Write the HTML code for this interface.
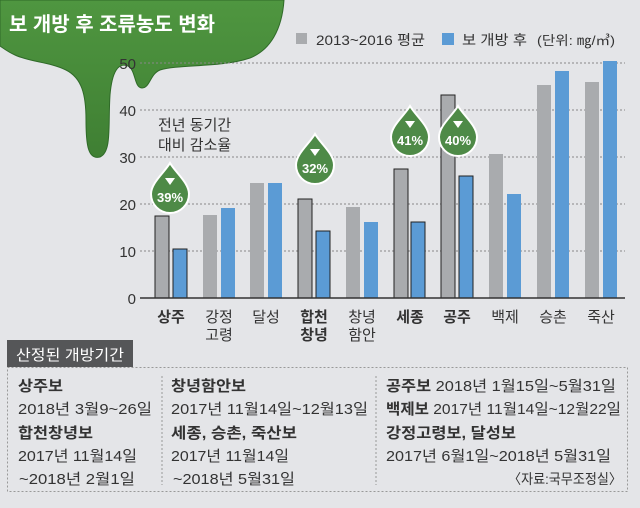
<!DOCTYPE html>
<html><head><meta charset="utf-8"><style>
body{margin:0;background:#e4e5e8;}
svg{display:block;font-family:"Liberation Sans","Noto Sans CJK KR",sans-serif;}
</style></head><body>
<svg width="640" height="508" viewBox="0 0 640 508" xmlns="http://www.w3.org/2000/svg">
<rect width="640" height="508" fill="#e4e5e8"/>
<defs>
<linearGradient id="g" x1="0" y1="0" x2="0" y2="1"><stop offset="0" stop-color="#4f9640"/><stop offset="1" stop-color="#3f7f33"/></linearGradient>
</defs>
<path d="M0 0 H284 C282 30 270 50 250 58 C220 68 180 64 160 70 C150 74 150 88 142 88 C134 88 136 70 128 66 C118 62 112 72 110 95 C108 125 112 152 100 157 C88 160 86 145 86 120 C86 95 82 78 66 70 C50 62 30 62 15 55 C8 52 3 48 0 46 Z" fill="url(#g)" stroke="#2f6a28" stroke-width="1"/>
<text x="9" y="31" font-size="20" font-weight="bold" fill="#fff" textLength="206" lengthAdjust="spacingAndGlyphs">보 개방 후 조류농도 변화</text>
<rect x="296" y="33" width="11" height="11" fill="#a9abae"/>
<text x="316" y="45" font-size="14" fill="#333" textLength="109" lengthAdjust="spacingAndGlyphs">2013~2016 평균</text>
<rect x="442" y="33" width="12" height="12" fill="#5b9bd5"/>
<text x="462" y="45" font-size="14" fill="#333" textLength="65" lengthAdjust="spacingAndGlyphs">보 개방 후</text>
<text x="537" y="45" font-size="13" fill="#333" textLength="78" lengthAdjust="spacingAndGlyphs">(단위: ㎎/㎥)</text>
<g stroke="#888" stroke-width="1" stroke-dasharray="2,2">
<line x1="140" y1="63" x2="625" y2="63"/><line x1="140" y1="110" x2="625" y2="110"/><line x1="140" y1="157" x2="625" y2="157"/><line x1="140" y1="204" x2="625" y2="204"/><line x1="140" y1="251" x2="625" y2="251"/>
</g>
<g font-size="15" fill="#333" text-anchor="end">
<text x="136" y="69">50</text><text x="136" y="116">40</text><text x="136" y="163">30</text><text x="136" y="210">20</text><text x="136" y="257">10</text><text x="136" y="304">0</text>
</g>
<g>
<rect x="155" y="216" width="14" height="82" fill="#a9abae" stroke="#222"/><rect x="173" y="249" width="14" height="49" fill="#5b9bd5" stroke="#222"/>
<rect x="203" y="215" width="14" height="83" fill="#a9abae"/><rect x="221" y="208" width="14" height="90" fill="#5b9bd5"/>
<rect x="250" y="183" width="14" height="115" fill="#a9abae"/><rect x="268" y="183" width="14" height="115" fill="#5b9bd5"/>
<rect x="298" y="199" width="14" height="99" fill="#a9abae" stroke="#222"/><rect x="316" y="231" width="14" height="67" fill="#5b9bd5" stroke="#222"/>
<rect x="346" y="207" width="14" height="91" fill="#a9abae"/><rect x="364" y="222" width="14" height="76" fill="#5b9bd5"/>
<rect x="394" y="169" width="14" height="129" fill="#a9abae" stroke="#222"/><rect x="411" y="222" width="14" height="76" fill="#5b9bd5" stroke="#222"/>
<rect x="441" y="95" width="14" height="203" fill="#a9abae" stroke="#222"/><rect x="459" y="176" width="14" height="122" fill="#5b9bd5" stroke="#222"/>
<rect x="489" y="154" width="14" height="144" fill="#a9abae"/><rect x="507" y="194" width="14" height="104" fill="#5b9bd5"/>
<rect x="537" y="85" width="14" height="213" fill="#a9abae"/><rect x="555" y="71" width="14" height="227" fill="#5b9bd5"/>
<rect x="585" y="82" width="14" height="216" fill="#a9abae"/><rect x="603" y="61" width="14" height="237" fill="#5b9bd5"/>
</g>
<line x1="140" y1="298" x2="625" y2="298" stroke="#333" stroke-width="1.5"/>
<g font-size="15" fill="#333" text-anchor="middle">
<text x="171" y="322" font-weight="bold">상주</text>
<text x="219" y="322">강정</text><text x="219" y="340">고령</text>
<text x="266" y="322">달성</text>
<text x="314" y="322" font-weight="bold">합천</text><text x="314" y="340" font-weight="bold">창녕</text>
<text x="362" y="322">창녕</text><text x="362" y="340">함안</text>
<text x="410" y="322" font-weight="bold">세종</text>
<text x="457" y="322" font-weight="bold">공주</text>
<text x="505" y="322">백제</text>
<text x="553" y="322">승촌</text>
<text x="601" y="322">죽산</text>
</g>
<text x="158" y="130" font-size="15" fill="#333">전년 동기간</text>
<text x="158" y="150" font-size="15" fill="#333">대비 감소율</text>
<g>
<g transform="translate(170,163)"><path d="M0 0 C6 10 19 20 19 31 A19 19 0 0 1 -19 31 C-19 20 -6 10 0 0Z" fill="#4e8a47" stroke="#fff" stroke-width="2"/><path d="M-5 15 H5 L0 22Z" fill="#fff"/><text x="0" y="39" font-size="13" fill="#fff" text-anchor="middle" font-weight="bold">39%</text></g>
<g transform="translate(315,134)"><path d="M0 0 C6 10 19 20 19 31 A19 19 0 0 1 -19 31 C-19 20 -6 10 0 0Z" fill="#4e8a47" stroke="#fff" stroke-width="2"/><path d="M-5 15 H5 L0 22Z" fill="#fff"/><text x="0" y="39" font-size="13" fill="#fff" text-anchor="middle" font-weight="bold">32%</text></g>
<g transform="translate(410,106)"><path d="M0 0 C6 10 19 20 19 31 A19 19 0 0 1 -19 31 C-19 20 -6 10 0 0Z" fill="#4e8a47" stroke="#fff" stroke-width="2"/><path d="M-5 15 H5 L0 22Z" fill="#fff"/><text x="0" y="39" font-size="13" fill="#fff" text-anchor="middle" font-weight="bold">41%</text></g>
<g transform="translate(458,106)"><path d="M0 0 C6 10 19 20 19 31 A19 19 0 0 1 -19 31 C-19 20 -6 10 0 0Z" fill="#4e8a47" stroke="#fff" stroke-width="2"/><path d="M-5 15 H5 L0 22Z" fill="#fff"/><text x="0" y="39" font-size="13" fill="#fff" text-anchor="middle" font-weight="bold">40%</text></g>
</g>
<rect x="7" y="340" width="126" height="27" fill="#555658"/>
<text x="16" y="360" font-size="15" fill="#fff" textLength="108" lengthAdjust="spacingAndGlyphs">산정된 개방기간</text>
<rect x="7.5" y="367.5" width="620" height="124" fill="none" stroke="#999" stroke-dasharray="2,2"/>
<line x1="162" y1="376" x2="162" y2="485" stroke="#999" stroke-dasharray="2,2"/>
<line x1="376" y1="376" x2="376" y2="485" stroke="#999" stroke-dasharray="2,2"/>
<g font-size="15" fill="#333" lengthAdjust="spacingAndGlyphs">
<text x="18" y="391" font-weight="bold" textLength="45" lengthAdjust="spacingAndGlyphs">상주보</text>
<text x="18" y="414" textLength="134" lengthAdjust="spacingAndGlyphs">2018년 3월9~26일</text>
<text x="18" y="438" font-weight="bold" textLength="75" lengthAdjust="spacingAndGlyphs">합천창녕보</text>
<text x="18" y="461" textLength="119" lengthAdjust="spacingAndGlyphs">2017년 11월14일</text>
<text x="19" y="484" textLength="116" lengthAdjust="spacingAndGlyphs">~2018년 2월1일</text>
<text x="171" y="391" font-weight="bold" textLength="75" lengthAdjust="spacingAndGlyphs">창녕함안보</text>
<text x="171" y="414" textLength="197" lengthAdjust="spacingAndGlyphs">2017년 11월14일~12월13일</text>
<text x="171" y="438" font-weight="bold" textLength="126" lengthAdjust="spacingAndGlyphs">세종, 승촌, 죽산보</text>
<text x="171" y="461" textLength="118" lengthAdjust="spacingAndGlyphs">2017년 11월14일</text>
<text x="173" y="484" textLength="122" lengthAdjust="spacingAndGlyphs">~2018년 5월31일</text>
<text x="386" y="391" textLength="230" lengthAdjust="spacingAndGlyphs"><tspan font-weight="bold">공주보</tspan> 2018년 1월15일~5월31일</text>
<text x="386" y="414" textLength="235" lengthAdjust="spacingAndGlyphs"><tspan font-weight="bold">백제보</tspan> 2017년 11월14일~12월22일</text>
<text x="386" y="438" font-weight="bold" textLength="130" lengthAdjust="spacingAndGlyphs">강정고령보, 달성보</text>
<text x="386" y="461" textLength="225" lengthAdjust="spacingAndGlyphs">2017년 6월1일~2018년 5월31일</text>
<text x="508" y="484" font-size="14" textLength="114" lengthAdjust="spacingAndGlyphs">〈자료:국무조정실〉</text>
</g>
</svg>
</body></html>
